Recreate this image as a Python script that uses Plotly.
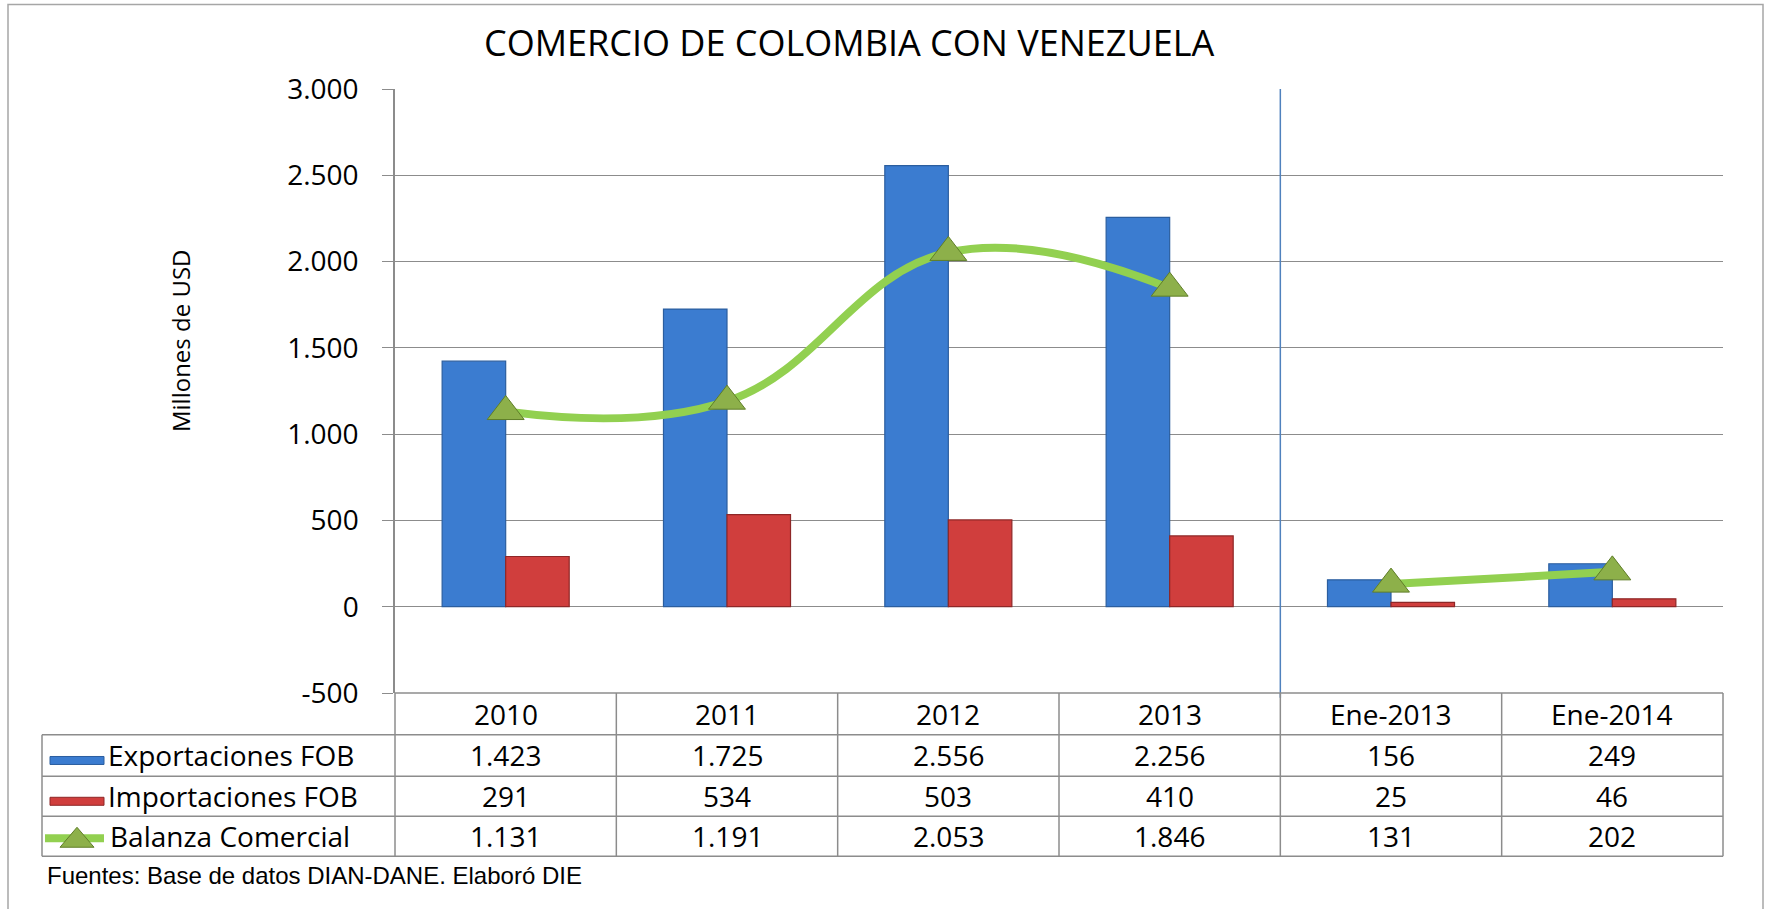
import plotly.graph_objects as go

# ---------------- data ----------------
categories = ["2010", "2011", "2012", "2013", "Ene-2013", "Ene-2014"]
exportaciones = [1423, 1725, 2556, 2256, 156, 249]
importaciones = [291, 534, 503, 410, 25, 46]
balanza = [1131, 1191, 2053, 1846, 131, 202]
series_names = ["Exportaciones FOB", "Importaciones FOB", "Balanza Comercial"]
y_ticks = [-500, 0, 500, 1000, 1500, 2000, 2500, 3000]
title_text = "COMERCIO DE COLOMBIA CON VENEZUELA"
y_title = "Millones de USD"
source_text = "Fuentes: Base de datos DIAN-DANE. Elaboró DIE"
annual_n = 4  # first four categories are annual, the rest monthly (separated)

# ---------------- styling / layout geometry ----------------
W, H = 1771, 909
PL, PR, PT, PB = 395, 1723, 88.7, 693.3
BLUE, BLUE_D = "#3B7CD0", "#2B5E9F"
RED, RED_D = "#D03E3D", "#8E2727"
GREEN_LINE = "#92D050"
TRI_FILL, TRI_LINE = "#8DB04A", "#5F7E28"
GRID = "#8C8C8C"
FONT = "Open Sans"


def px_x(x):
    return (x - PL) / (PR - PL)


def px_y(y):
    return (PB - y) / (PB - PT)


def fmt(v):
    return f"{v:,}".replace(",", ".")


fig = go.Figure()
fig.add_trace(go.Bar(x=categories, y=exportaciones, name=series_names[0],
                     marker=dict(color=BLUE, line=dict(color=BLUE_D, width=1.2))))
fig.add_trace(go.Bar(x=categories, y=importaciones, name=series_names[1],
                     marker=dict(color=RED, line=dict(color=RED_D, width=1.2))))
for xs, ys in [(categories[:annual_n], balanza[:annual_n]),
               (categories[annual_n:], balanza[annual_n:])]:
    fig.add_trace(go.Scatter(
        x=xs, y=ys, mode="lines+markers", name=series_names[2],
        line=dict(color=GREEN_LINE, width=8, shape="spline", smoothing=1.2),
        marker=dict(symbol="triangle-up", size=32, color=TRI_FILL,
                    line=dict(color=TRI_LINE, width=1)),
    ))

shapes = []
annotations = []

# outer chart border
shapes.append(dict(type="rect", xref="paper", yref="paper",
                   x0=px_x(8), x1=px_x(1763), y0=px_y(935), y1=px_y(4),
                   line=dict(color="#A6A6A6", width=1.5), fillcolor="rgba(0,0,0,0)",
                   layer="below"))

# separator between annual and monthly data
shapes.append(dict(type="line", xref="x", yref="paper",
                   x0=annual_n - 0.5, x1=annual_n - 0.5, y0=px_y(698), y1=1,
                   line=dict(color="#4F81BD", width=1.5)))

# data table grid
row_lines = [735, 776.7, 816.7, 856.7]
tbl_left = 42
ncat = len(categories)
tl = dict(color=GRID, width=1.5)
shapes.append(dict(type="line", xref="paper", yref="paper",
                   x0=0, x1=1, y0=0, y1=0, line=tl))
for yy in row_lines:
    shapes.append(dict(type="line", xref="paper", yref="paper",
                       x0=px_x(tbl_left), x1=1,
                       y0=px_y(yy), y1=px_y(yy), line=tl))
shapes.append(dict(type="line", xref="paper", yref="paper",
                   x0=px_x(tbl_left), x1=px_x(tbl_left),
                   y0=px_y(row_lines[0]), y1=px_y(row_lines[-1]), line=tl))
for k in range(ncat + 1):
    shapes.append(dict(type="line", xref="paper", yref="paper",
                       x0=k / ncat, x1=k / ncat,
                       y0=0, y1=px_y(row_lines[-1]), line=tl))

# table text
hdr_y = (PB + row_lines[0]) / 2
row_y = [(row_lines[i] + row_lines[i + 1]) / 2 for i in range(3)]
tfont = dict(family=FONT, size=28, color="#000000")
for i, c in enumerate(categories):
    annotations.append(dict(x=(i + 0.5) / ncat, xref="paper", y=px_y(hdr_y), yref="paper",
                            text=c, showarrow=False, font=tfont,
                            xanchor="center", yanchor="middle"))
for r, vals in enumerate([exportaciones, importaciones, balanza]):
    for i, v in enumerate(vals):
        annotations.append(dict(x=(i + 0.5) / ncat, xref="paper", y=px_y(row_y[r]),
                                yref="paper", text=fmt(v), showarrow=False, font=tfont,
                                xanchor="center", yanchor="middle"))
    annotations.append(dict(x=px_x(106 if r < 2 else 108), xref="paper",
                            y=px_y(row_y[r]), yref="paper",
                            text=series_names[r], showarrow=False, font=tfont,
                            xanchor="left", yanchor="middle"))

# legend keys in table
for r, (fc, lc) in enumerate([(BLUE, BLUE_D), (RED, RED_D)]):
    cy = row_y[r] + 5
    shapes.append(dict(type="rect", xref="paper", yref="paper",
                       x0=px_x(50), x1=px_x(104), y0=px_y(cy + 4), y1=px_y(cy - 4),
                       fillcolor=fc, line=dict(color=lc, width=1)))
cy = row_y[2] + 2
shapes.append(dict(type="line", xref="paper", yref="paper",
                   x0=px_x(45), x1=px_x(104), y0=px_y(cy), y1=px_y(cy),
                   line=dict(color=GREEN_LINE, width=8)))
tx, tw, th = 77, 34, 20
shapes.append(dict(type="path", xref="paper", yref="paper",
                   path=(f"M {px_x(tx - tw / 2)} {px_y(cy + th * 0.45)} "
                         f"L {px_x(tx + tw / 2)} {px_y(cy + th * 0.45)} "
                         f"L {px_x(tx)} {px_y(cy - th * 0.55)} Z"),
                   fillcolor=TRI_FILL, line=dict(color=TRI_LINE, width=1)))

# title, axis title, source
annotations.append(dict(x=px_x(849), xref="paper", y=px_y(42), yref="paper",
                        text=title_text, showarrow=False,
                        font=dict(family=FONT, size=36, color="#000000"),
                        xanchor="center", yanchor="middle"))
annotations.append(dict(x=px_x(180), xref="paper", y=px_y(341), yref="paper",
                        text=y_title, showarrow=False, textangle=-90,
                        font=dict(family=FONT, size=24, color="#000000"),
                        xanchor="center", yanchor="middle"))
annotations.append(dict(x=px_x(45), xref="paper", y=px_y(876), yref="paper",
                        text=source_text, showarrow=False,
                        font=dict(family="Liberation Sans", size=24, color="#000000"),
                        xanchor="left", yanchor="middle"))

fig.update_layout(
    width=W, height=H,
    margin=dict(l=PL, r=W - PR, t=PT, b=H - PB, pad=0),
    paper_bgcolor="white", plot_bgcolor="white",
    barmode="group", bargap=0.426, bargroupgap=0,
    showlegend=False,
    shapes=shapes, annotations=annotations,
    xaxis=dict(type="category", range=[-0.5, ncat - 0.5], showticklabels=False,
               showgrid=False, zeroline=False, showline=False, ticks=""),
    yaxis=dict(range=[-500, 3000], tickvals=y_ticks,
               ticktext=[fmt(v) for v in y_ticks],
               showgrid=True, gridcolor=GRID, gridwidth=1.2,
               zeroline=False, showline=True, linecolor=GRID, linewidth=1.5,
               ticks="outside", ticklen=11, tickcolor=GRID, tickwidth=1.2,
               ticklabelstandoff=18,
               tickfont=dict(family=FONT, size=28, color="#000000")),
)

fig.write_html("out.html")
